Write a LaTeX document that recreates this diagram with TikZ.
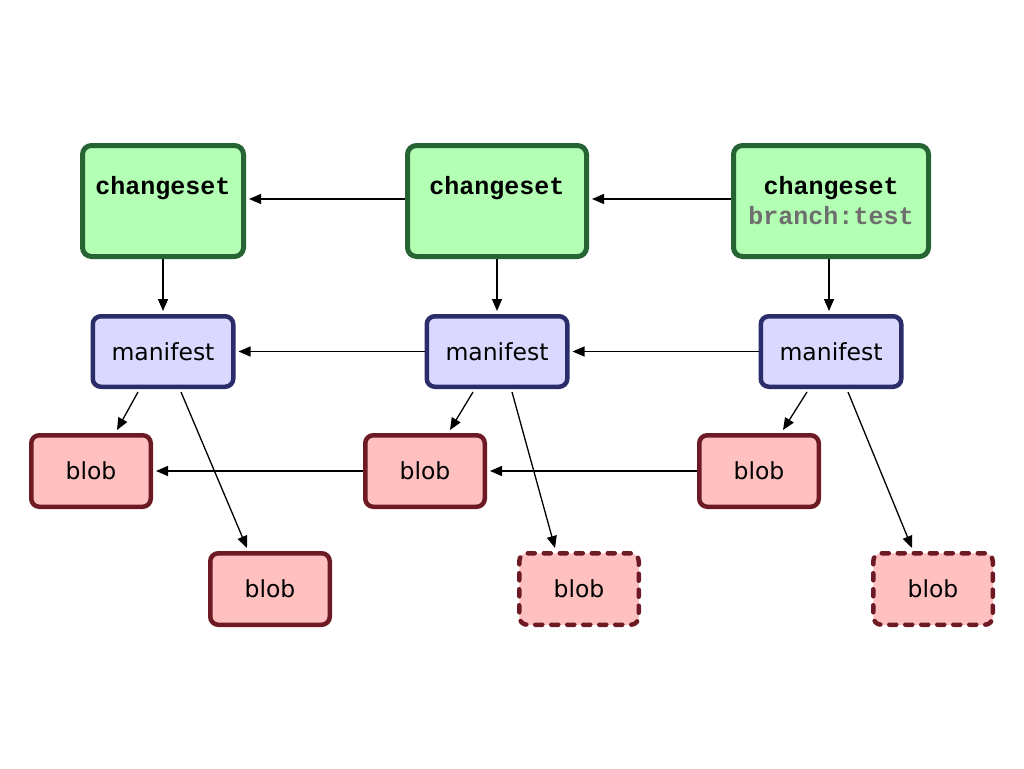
\documentclass[tikz,border=0pt]{standalone}
\usepackage{fontspec}
\setmainfont{DejaVu Sans}
\newfontfamily\cmono{Liberation Mono}
\usetikzlibrary{arrows.meta,calc}
\definecolor{csfill}{RGB}{179,255,179}
\definecolor{csdraw}{RGB}{38,100,52}
\definecolor{mffill}{RGB}{218,216,255}
\definecolor{mfdraw}{RGB}{42,45,105}
\definecolor{blfill}{RGB}{255,192,192}
\definecolor{bldraw}{RGB}{110,26,36}
\definecolor{brgray}{RGB}{110,110,110}
\begin{document}
\begin{tikzpicture}[x=1pt,y=-1pt,
  cset/.style={draw=csdraw,fill=csfill,line width=5pt,rounded corners=9pt,
    minimum height=111pt,align=center,inner sep=0pt,
    font=\cmono\bfseries\fontsize{25}{30}\selectfont},
  mfst/.style={draw=mfdraw,fill=mffill,line width=4.5pt,rounded corners=8pt,
    minimum width=140.5pt,minimum height=70.5pt,inner sep=0pt,
    font=\fontsize{23.5}{28}\selectfont},
  blb/.style={draw=bldraw,fill=blfill,line width=4.5pt,rounded corners=8pt,
    minimum width=119.5pt,minimum height=71.5pt,inner sep=0pt,
    font=\fontsize{23.5}{28}\selectfont},
  dblb/.style={blb,dash pattern=on 7pt off 9pt,line cap=round},
  arr/.style={line width=1.3pt,-{Triangle[length=12pt,width=10pt]}}
]
\useasboundingbox (0,0) rectangle (1024,768);
% changesets
\node[cset,minimum width=161pt] (c1) at (163,201) {changeset\\\vphantom{branch:test}};
\node[cset,minimum width=179pt] (c2) at (497,201) {changeset\\\vphantom{branch:test}};
\node[cset,minimum width=195pt] (c3) at (831,201) {changeset\\\textcolor{brgray}{branch:test}};
% manifests
\node[mfst] (m1) at (163,351.5) {manifest};
\node[mfst] (m2) at (497,351.5) {manifest};
\node[mfst] (m3) at (831,351.5) {manifest};
% blobs
\node[blb] (b1) at (91,471) {blob};
\node[blb] (b2) at (425,471) {blob};
\node[blb] (b3) at (759,471) {blob};
\node[blb] (d1) at (270,589) {blob};
\node[dblb] (d2) at (579,589) {blob};
\node[dblb] (d3) at (933,589) {blob};
% horizontal arrows
\draw[arr] (c2.west |- 0,199) -- ($(c1.east |- 0,199)+(3,0)$);
\draw[arr] (c3.west |- 0,199) -- ($(c2.east |- 0,199)+(3,0)$);
\draw[arr] (m2.west) -- ($(m1.east)+(3,0)$);
\draw[arr] (m3.west) -- ($(m2.east)+(3,0)$);
\draw[arr] (b2.west) -- ($(b1.east)+(3,0)$);
\draw[arr] (b3.west) -- ($(b2.east)+(3,0)$);
% vertical
\draw[arr] (c1.south) -- ($(m1.north)+(0,-3)$);
\draw[arr] (c2.south) -- ($(m2.north)+(0,-3)$);
\draw[arr] ($(c3.south)+(-2,0)$) -- ($(m3.north)+(-2,-3)$);
% diagonals
\draw[arr] ($(m1.south)+(-25,3)$) -- ($(b1.north)+(26,-3)$);
\draw[arr] ($(m1.south)+(18,3)$) -- ($(d1.north)+(-23,-3)$);
\draw[arr] ($(m2.south)+(-24,3)$) -- ($(b2.north)+(25,-3)$);
\draw[arr] ($(m2.south)+(15,3)$) -- ($(d2.north)+(-24,-3)$);
\draw[arr] ($(m3.south)+(-24,3)$) -- ($(b3.north)+(24,-3)$);
\draw[arr] ($(m3.south)+(17,3)$) -- ($(d3.north)+(-21,-3)$);
\end{tikzpicture}
\end{document}
